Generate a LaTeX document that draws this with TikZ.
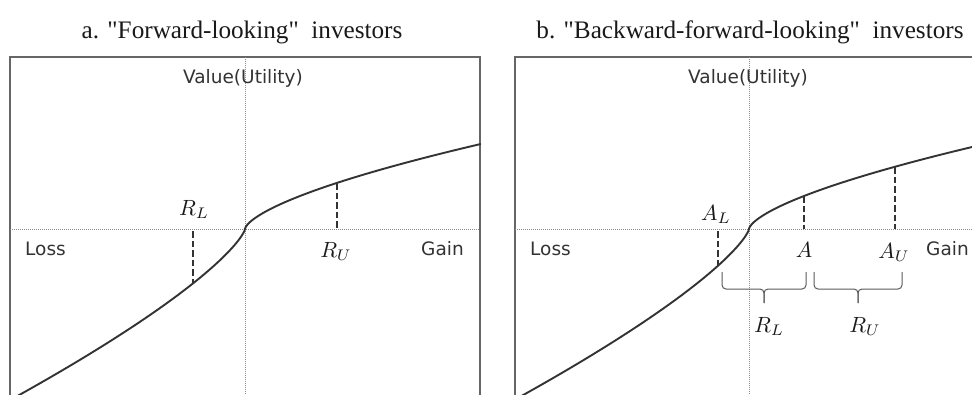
\documentclass[tikz,border=0pt]{standalone}
\usepackage{fontspec}
\setmainfont{Liberation Serif}[Ligatures=TeXOff]
\newfontfamily\labelfont{DejaVu Sans}
\begin{document}
\begin{tikzpicture}[x=1pt,y=-1pt,
  frame/.style={draw=black!60, line width=1.4pt},
  axisline/.style={draw=black!45, line width=0.9pt, dash pattern=on 1pt off 1pt},
  curve/.style={draw=black!80, line width=1.9pt},
  drop/.style={draw=black!80, line width=2.1pt, dash pattern=on 6.5pt off 3pt},
  bracepath/.style={draw=black!65, line width=1pt, rounded corners=4pt},
  title/.style={anchor=base, font=\fontsize{25.2}{28}\selectfont, text=black!90},
  word/.style={anchor=base, font=\labelfont\fontsize{18.5}{22}\selectfont, text=black!80},
  sym/.style={anchor=base, font=\fontsize{10}{12}\selectfont, scale=2.2, text=black!90, inner sep=0pt}]
\useasboundingbox (0,0) rectangle (972,394);
\clip (0,0) rectangle (972,394);
% titles
\node[title] (ta) at (242,38) {a. "Forward-looking"\ \ investors};
\node[title] (tb) at (750,38) {b. "Backward-forward-looking"\ \ investors};
% ---------- panel a ----------
\draw[frame] (10,400) -- (10,57) -- (480,57) -- (480,400);
\draw[axisline] (245,57) -- (245,400);
\draw[axisline] (10,229) -- (480,229);
\coordinate (oa) at (245,229);
\draw[curve] plot[domain=1:0.03,samples=120,variable=\t] ({245-235*\t*\t},{229+2.7*(235*\t*\t)^0.76}) -- (oa)
  -- plot[domain=0.03:1,samples=120,variable=\t] ({245+236*\t*\t},{229-2.44*(236*\t*\t)^0.65});
\coordinate (rlTop) at (193,231);
\coordinate (rlBot) at (193,283);
\coordinate (ruTop) at (337,183);
\coordinate (ruBot) at (337,229);
\draw[drop] (rlTop) -- (rlBot);
\draw[drop] (ruTop) -- (ruBot);
\node[word] (va) at (243,83) {Value(Utility)};
\node[word] (lossa) at (45.5,255) {Loss};
\node[word] (gaina) at (442.5,255) {Gain};
\node[sym] (RLa) at (194,215) {$R_L$};
\node[sym] (RUa) at (336,257) {$R_U$};
% ---------- panel b ----------
\draw[frame] (515,400) -- (515,57) -- (975,57);
\draw[axisline] (749,57) -- (749,400);
\draw[axisline] (515,229) -- (975,229);
\coordinate (ob) at (749,229);
\draw[curve] plot[domain=1:0.03,samples=120,variable=\t] ({749-235*\t*\t},{229+2.7*(235*\t*\t)^0.76}) -- (ob)
  -- plot[domain=0.03:1,samples=120,variable=\t] ({749+226*\t*\t},{229-2.44*(226*\t*\t)^0.65});
\coordinate (alTop) at (718,231);
\coordinate (alBot) at (718,266);
\coordinate (aTop) at (804,196);
\coordinate (aBot) at (804,229);
\coordinate (auTop) at (895,167);
\coordinate (auBot) at (895,229);
\draw[drop] (alTop) -- (alBot);
\draw[drop] (aTop) -- (aBot);
\draw[drop] (auTop) -- (auBot);
\node[word] (vb) at (748,83) {Value(Utility)};
\node[word] (lossb) at (550.5,255) {Loss};
\node[word] (gainb) at (947.5,255) {Gain};
\node[sym] (ALb) at (716,220) {$A_L$};
\node[sym] (Ab) at (804,257) {$A$};
\node[sym] (AUb) at (894,258) {$A_U$};
% braces
\coordinate (b1l) at (722,272);
\coordinate (b1r) at (806,272);
\coordinate (b1t) at (764,289);
\coordinate (b1p) at (764,303);
\coordinate (b2l) at (814,272);
\coordinate (b2r) at (902,272);
\coordinate (b2t) at (858,289);
\coordinate (b2p) at (858,303);
\draw[bracepath] (b1l) |- (b1t) -- (b1p);
\draw[bracepath] (b1r) |- (b1t) -- (b1p);
\draw[bracepath] (b2l) |- (b2t) -- (b2p);
\draw[bracepath] (b2r) |- (b2t) -- (b2p);
\node[sym] (RLb) at (769,332) {$R_L$};
\node[sym] (RUb) at (865,332) {$R_U$};
\end{tikzpicture}
\end{document}
